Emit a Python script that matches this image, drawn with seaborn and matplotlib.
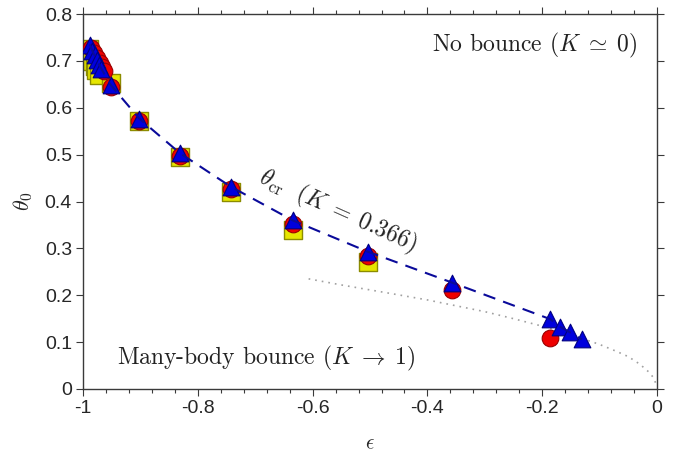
import matplotlib
matplotlib.use("Agg")
import matplotlib.pyplot as plt
import seaborn as sns
from matplotlib.ticker import MultipleLocator

# Data
eps_tri = [-0.988, -0.984, -0.980, -0.976, -0.972, -0.968, -0.952, -0.902, -0.831,
           -0.743, -0.635, -0.504, -0.357, -0.186, -0.169, -0.152, -0.131]
theta_tri = [0.735, 0.722, 0.712, 0.702, 0.692, 0.683, 0.649, 0.577, 0.503,
             0.432, 0.360, 0.293, 0.227, 0.149, 0.133, 0.121, 0.106]

eps_circ = [-0.986, -0.981, -0.976, -0.971, -0.967, -0.963, -0.951, -0.902, -0.831,
            -0.743, -0.635, -0.504, -0.357, -0.186]
theta_circ = [0.728, 0.716, 0.706, 0.696, 0.687, 0.678, 0.645, 0.572, 0.498,
              0.426, 0.352, 0.284, 0.211, 0.108]

eps_sq = [-0.990, -0.987, -0.984, -0.980, -0.977, -0.973, -0.952, -0.902, -0.831,
          -0.743, -0.635, -0.504]
theta_sq = [0.725, 0.712, 0.700, 0.690, 0.680, 0.670, 0.652, 0.572, 0.496,
            0.421, 0.339, 0.272]

eps_dot = [-0.607, -0.55, -0.465, -0.4, -0.3, -0.25, -0.2, -0.15, -0.1,
           -0.07, -0.05, -0.03, -0.015, -0.006, 0.0]
theta_dot = [0.235, 0.222, 0.204, 0.190, 0.165, 0.150, 0.134, 0.116, 0.095,
             0.080, 0.069, 0.053, 0.037, 0.024, 0.005]

x_ticks = [-1, -0.8, -0.6, -0.4, -0.2, 0]
x_labels = ["-1", "-0.8", "-0.6", "-0.4", "-0.2", "0"]
y_ticks = [0, 0.1, 0.2, 0.3, 0.4, 0.5, 0.6, 0.7, 0.8]
y_labels = ["0", "0.1", "0.2", "0.3", "0.4", "0.5", "0.6", "0.7", "0.8"]

sns.set_style("ticks")
plt.rcParams['font.family'] = ['Liberation Sans', 'DejaVu Sans']
plt.rcParams['mathtext.fontset'] = 'cm'
plt.rcParams['axes.unicode_minus'] = False

AX_COLOR = "#3a3a3a"
TXT = "#222222"

fig, ax = plt.subplots(figsize=(6.89, 4.53), dpi=100)
fig.subplots_adjust(left=0.1205, right=0.9536, bottom=0.1413, top=0.969)

# theory curve (dotted)
sns.lineplot(x=eps_dot, y=theta_dot, sort=False, estimator=None, ax=ax,
             color="#a0a0a0", lw=1.2, ls=(0, (1, 3)), zorder=1)

# markers
sns.scatterplot(x=eps_sq, y=theta_sq, marker="s", s=13**2, color="#e6e600",
                edgecolor="#8c8c00", linewidth=1.0, ax=ax, zorder=2)
sns.scatterplot(x=eps_circ, y=theta_circ, marker="o", s=12**2, color="#ee0000",
                edgecolor="#990000", linewidth=0.8, ax=ax, zorder=3)
sns.scatterplot(x=eps_tri, y=theta_tri, marker="^", s=12**2, color="#0000dd",
                edgecolor="#000080", linewidth=0.8, ax=ax, zorder=4)

# critical line (dashed)
sns.lineplot(x=eps_tri, y=theta_tri, sort=False, estimator=None, ax=ax,
             color="#0a0a9a", lw=1.5, ls=(0, (6, 4)), zorder=5)

ax.set_xlim(-1, 0)
ax.set_ylim(0, 0.8)
ax.set_xticks(x_ticks)
ax.set_xticklabels(x_labels)
ax.set_yticks(y_ticks)
ax.set_yticklabels(y_labels)
ax.xaxis.set_minor_locator(MultipleLocator(0.04))

for sp in ax.spines.values():
    sp.set_visible(True)
    sp.set_color(AX_COLOR)
    sp.set_linewidth(1.0)

ax.tick_params(which="both", direction="out", top=True, right=True,
               color=AX_COLOR, labelcolor="#262626", width=0.8)
ax.tick_params(which="major", length=5, labelsize=14, pad=3)
ax.tick_params(which="minor", length=3)

ax.set_xlabel(r"$\epsilon$", fontsize=15, color="#262626", labelpad=12)
ax.set_ylabel(r"$\theta_0$", fontsize=16, color="#262626", labelpad=7)

ax.text(-0.035, 0.732, r"No bounce $(K\;\simeq\;0)$", family="cmr10",
        fontsize=17, ha="right", va="center", color=TXT)
ax.text(-0.94, 0.065, r"Many-body bounce $(K\;\to\;1)$", family="cmr10",
        fontsize=17, ha="left", va="center", color=TXT)
ax.text(-0.556, 0.380, r"$\theta_{\rm cr}\ \ (K\;=\;0.366)$",
        fontsize=17, ha="center", va="center", rotation=-24,
        rotation_mode="anchor", color=TXT)

fig.savefig("out.png", dpi=100)
